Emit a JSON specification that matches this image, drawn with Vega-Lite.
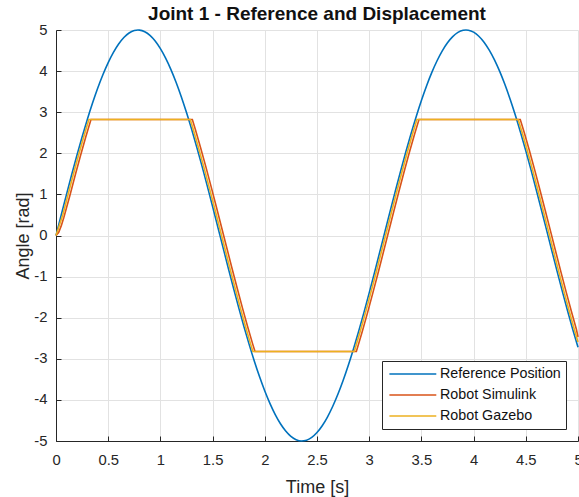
{
  "$schema": "https://vega.github.io/schema/vega-lite/v6.json",
  "width": 522,
  "height": 411,
  "autosize": "none",
  "padding": {"left": 56, "top": 30, "right": 1, "bottom": 56},
  "background": "white",
  "title": {"text": "Joint 1 - Reference and Displacement", "font": "Liberation Sans", "fontSize": 19, "fontWeight": "bold", "color": "#111111", "anchor": "middle", "baseline": "alphabetic", "offset": 4, "dy": 21},
  "config": {
    "view": {"stroke": null},
    "axis": {"labelFont": "Liberation Sans", "titleFont": "Liberation Sans", "labelFontSize": 14.8, "titleFontSize": 18, "titleFontWeight": "normal", "labelColor": "#262626", "titleColor": "#262626", "domainColor": "#262626", "domainWidth": 1, "tickColor": "#262626", "tickSize": -5, "gridColor": "#e2e2e2", "gridWidth": 1, "labelFlush": false, "labelOverlap": false},
    "legend": {"orient": "bottom-right", "offset": 12, "padding": 5, "fillColor": "white", "strokeColor": "#262626", "strokeWidth": 1, "cornerRadius": 0, "symbolType": "M-0.8,0H5.9", "symbolSize": 196, "symbolStrokeWidth": 1.6, "symbolFillColor": "transparent", "labelOffset": 37, "rowPadding": 5, "labelFont": "Liberation Sans", "labelFontSize": 14.3, "labelColor": "#111111"}
  },
  "datasets": {
    "ref": [{"t":0,"v":0},{"t":0.05,"v":0.499},{"t":0.1,"v":0.993},{"t":0.15,"v":1.478},{"t":0.2,"v":1.947},{"t":0.25,"v":2.397},{"t":0.3,"v":2.823},{"t":0.35,"v":3.221},{"t":0.4,"v":3.587},{"t":0.45,"v":3.917},{"t":0.5,"v":4.207},{"t":0.55,"v":4.456},{"t":0.6,"v":4.66},{"t":0.65,"v":4.818},{"t":0.7,"v":4.927},{"t":0.75,"v":4.987},{"t":0.785,"v":5},{"t":0.8,"v":4.998},{"t":0.85,"v":4.958},{"t":0.9,"v":4.869},{"t":0.95,"v":4.732},{"t":1,"v":4.546},{"t":1.05,"v":4.316},{"t":1.1,"v":4.043},{"t":1.15,"v":3.729},{"t":1.2,"v":3.377},{"t":1.25,"v":2.992},{"t":1.3,"v":2.578},{"t":1.35,"v":2.137},{"t":1.4,"v":1.675},{"t":1.45,"v":1.196},{"t":1.5,"v":0.706},{"t":1.55,"v":0.208},{"t":1.6,"v":-0.292},{"t":1.65,"v":-0.789},{"t":1.7,"v":-1.278},{"t":1.75,"v":-1.754},{"t":1.8,"v":-2.213},{"t":1.85,"v":-2.649},{"t":1.9,"v":-3.059},{"t":1.95,"v":-3.439},{"t":2,"v":-3.784},{"t":2.05,"v":-4.091},{"t":2.1,"v":-4.358},{"t":2.15,"v":-4.581},{"t":2.2,"v":-4.758},{"t":2.25,"v":-4.888},{"t":2.3,"v":-4.968},{"t":2.35,"v":-5},{"t":2.4,"v":-4.981},{"t":2.45,"v":-4.912},{"t":2.5,"v":-4.795},{"t":2.55,"v":-4.629},{"t":2.6,"v":-4.417},{"t":2.65,"v":-4.161},{"t":2.7,"v":-3.864},{"t":2.75,"v":-3.528},{"t":2.8,"v":-3.156},{"t":2.85,"v":-2.753},{"t":2.9,"v":-2.323},{"t":2.95,"v":-1.87},{"t":3,"v":-1.397},{"t":3.05,"v":-0.911},{"t":3.1,"v":-0.415},{"t":3.15,"v":0.084},{"t":3.2,"v":0.583},{"t":3.25,"v":1.076},{"t":3.3,"v":1.558},{"t":3.35,"v":2.024},{"t":3.4,"v":2.471},{"t":3.45,"v":2.892},{"t":3.5,"v":3.285},{"t":3.55,"v":3.645},{"t":3.6,"v":3.968},{"t":3.65,"v":4.252},{"t":3.7,"v":4.494},{"t":3.75,"v":4.69},{"t":3.8,"v":4.84},{"t":3.85,"v":4.941},{"t":3.9,"v":4.993},{"t":3.927,"v":5},{"t":3.95,"v":4.995},{"t":4,"v":4.947},{"t":4.05,"v":4.849},{"t":4.1,"v":4.704},{"t":4.15,"v":4.511},{"t":4.2,"v":4.273},{"t":4.25,"v":3.992},{"t":4.3,"v":3.672},{"t":4.35,"v":3.315},{"t":4.4,"v":2.925},{"t":4.45,"v":2.505},{"t":4.5,"v":2.061},{"t":4.55,"v":1.596},{"t":4.6,"v":1.114},{"t":4.65,"v":0.622},{"t":4.7,"v":0.124},{"t":4.75,"v":-0.376},{"t":4.8,"v":-0.872},{"t":4.85,"v":-1.359},{"t":4.9,"v":-1.832},{"t":4.95,"v":-2.288},{"t":5,"v":-2.72}],
    "sim": [{"t":0,"v":0},{"t":0.025,"v":0.071},{"t":0.05,"v":0.234},{"t":0.075,"v":0.44},{"t":0.1,"v":0.67},{"t":0.135,"v":0.993},{"t":0.185,"v":1.478},{"t":0.235,"v":1.947},{"t":0.285,"v":2.397},{"t":0.335,"v":2.823},{"t":1.306,"v":2.823},{"t":1.335,"v":2.578},{"t":1.385,"v":2.137},{"t":1.435,"v":1.675},{"t":1.485,"v":1.196},{"t":1.535,"v":0.706},{"t":1.585,"v":0.208},{"t":1.635,"v":-0.292},{"t":1.685,"v":-0.789},{"t":1.735,"v":-1.278},{"t":1.785,"v":-1.754},{"t":1.835,"v":-2.213},{"t":1.885,"v":-2.649},{"t":1.906,"v":-2.823},{"t":2.877,"v":-2.823},{"t":2.935,"v":-2.323},{"t":2.985,"v":-1.87},{"t":3.035,"v":-1.397},{"t":3.085,"v":-0.911},{"t":3.135,"v":-0.415},{"t":3.185,"v":0.084},{"t":3.235,"v":0.583},{"t":3.285,"v":1.076},{"t":3.335,"v":1.558},{"t":3.385,"v":2.024},{"t":3.435,"v":2.471},{"t":3.477,"v":2.823},{"t":4.447,"v":2.823},{"t":4.485,"v":2.505},{"t":4.535,"v":2.061},{"t":4.585,"v":1.596},{"t":4.635,"v":1.114},{"t":4.685,"v":0.622},{"t":4.735,"v":0.124},{"t":4.785,"v":-0.376},{"t":4.835,"v":-0.872},{"t":4.885,"v":-1.359},{"t":4.935,"v":-1.832},{"t":4.985,"v":-2.288},{"t":5,"v":-2.47}],
    "gaz": [{"t":0,"v":0},{"t":0.065,"v":0.499},{"t":0.115,"v":0.993},{"t":0.165,"v":1.478},{"t":0.215,"v":1.947},{"t":0.265,"v":2.397},{"t":0.315,"v":2.823},{"t":1.286,"v":2.823},{"t":1.315,"v":2.578},{"t":1.365,"v":2.137},{"t":1.415,"v":1.675},{"t":1.465,"v":1.196},{"t":1.515,"v":0.706},{"t":1.565,"v":0.208},{"t":1.615,"v":-0.292},{"t":1.665,"v":-0.789},{"t":1.715,"v":-1.278},{"t":1.765,"v":-1.754},{"t":1.815,"v":-2.213},{"t":1.865,"v":-2.649},{"t":1.886,"v":-2.823},{"t":2.857,"v":-2.823},{"t":2.915,"v":-2.323},{"t":2.965,"v":-1.87},{"t":3.015,"v":-1.397},{"t":3.065,"v":-0.911},{"t":3.115,"v":-0.415},{"t":3.165,"v":0.084},{"t":3.215,"v":0.583},{"t":3.265,"v":1.076},{"t":3.315,"v":1.558},{"t":3.365,"v":2.024},{"t":3.415,"v":2.471},{"t":3.457,"v":2.823},{"t":4.427,"v":2.823},{"t":4.465,"v":2.505},{"t":4.515,"v":2.061},{"t":4.565,"v":1.596},{"t":4.615,"v":1.114},{"t":4.665,"v":0.622},{"t":4.715,"v":0.124},{"t":4.765,"v":-0.376},{"t":4.815,"v":-0.872},{"t":4.865,"v":-1.359},{"t":4.915,"v":-1.832},{"t":4.965,"v":-2.288},{"t":5,"v":-2.59}]
  },
  "encoding": {
    "x": {"field": "t", "type": "quantitative", "scale": {"domain": [0, 5], "nice": false, "zero": false},
      "axis": {"title": "Time [s]", "values": [0,0.5,1,1.5,2,2.5,3,3.5,4,4.5,5], "labelExpr": "datum.value + ''", "labelPadding": 16, "titleX": 261, "titleY": 51, "titleBaseline": "alphabetic", "titleAnchor": "middle"}},
    "y": {"field": "v", "type": "quantitative", "scale": {"domain": [-5, 5], "nice": false, "zero": false},
      "axis": {"title": "Angle [rad]", "values": [-5,-4,-3,-2,-1,0,1,2,3,4,5], "labelExpr": "datum.value + ''", "labelPadding": 14, "titleX": -28, "titleY": 205.5, "titleAngle": -90, "titleAlign": "center", "titleBaseline": "alphabetic", "titleAnchor": "middle"}}
  },
  "layer": [
    {"data": {"name": "ref"}, "mark": {"type": "line", "strokeWidth": 1.6, "interpolate": "monotone"},
     "encoding": {"color": {"datum": "Reference Position", "type": "nominal", "title": null, "scale": {"domain": ["Reference Position", "Robot Simulink", "Robot Gazebo"], "range": ["#0072BD", "#D95319", "#EDB120"]}}}},
    {"data": {"name": "sim"}, "mark": {"type": "line", "strokeWidth": 1.6},
     "encoding": {"color": {"datum": "Robot Simulink", "type": "nominal", "title": null, "scale": {"domain": ["Reference Position", "Robot Simulink", "Robot Gazebo"], "range": ["#0072BD", "#D95319", "#EDB120"]}}}},
    {"data": {"name": "gaz"}, "mark": {"type": "line", "strokeWidth": 1.6},
     "encoding": {"color": {"datum": "Robot Gazebo", "type": "nominal", "title": null, "scale": {"domain": ["Reference Position", "Robot Simulink", "Robot Gazebo"], "range": ["#0072BD", "#D95319", "#EDB120"]}}}}
  ]
}
